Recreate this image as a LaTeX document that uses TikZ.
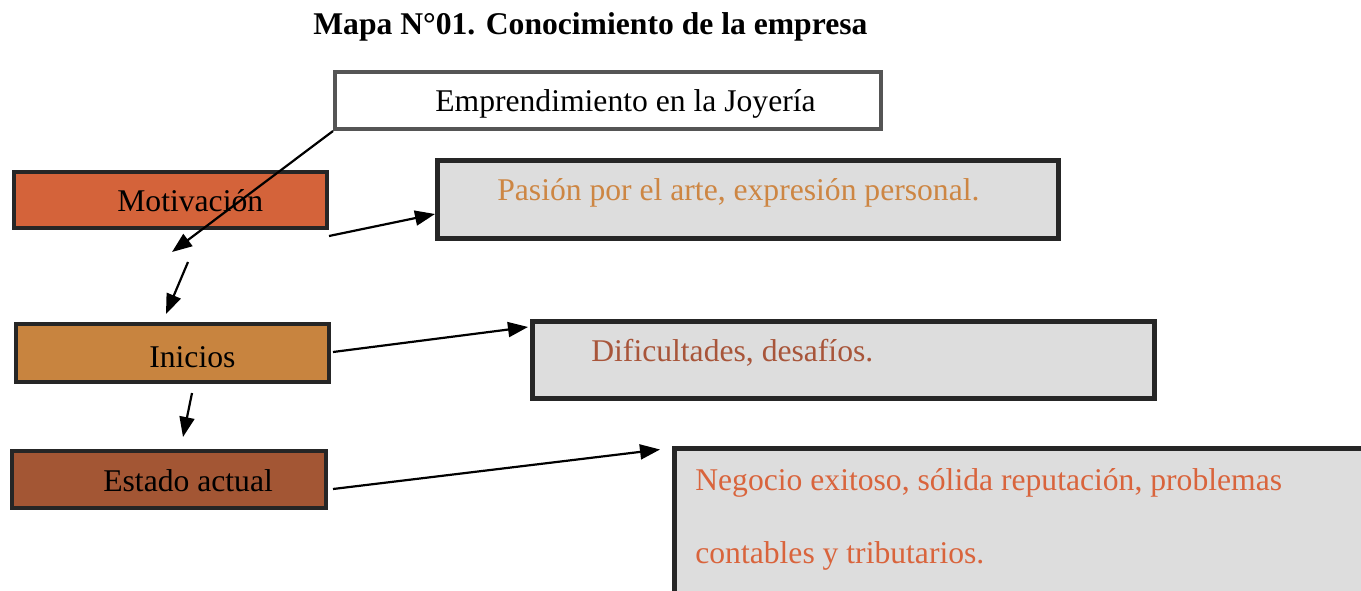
\documentclass[tikz,border=0pt]{standalone}
\usepackage{fontspec}
\setmainfont{Liberation Serif}
\usepackage{xcolor}
\usetikzlibrary{arrows.meta,positioning,calc}

\definecolor{edgedark}{HTML}{262626}
\definecolor{edgegray}{HTML}{555555}
\definecolor{panelgray}{HTML}{DDDDDD}
\definecolor{motivfill}{HTML}{D4633A}
\definecolor{iniciofill}{HTML}{C8843F}
\definecolor{estadofill}{HTML}{A35634}
\definecolor{pasiontext}{HTML}{CD8643}
\definecolor{dificultext}{HTML}{A8553A}
\definecolor{negociotext}{HTML}{D9643C}

\newcommand{\px}{0.02cm}

\begin{document}
\begin{tikzpicture}[
        x=0.02cm, y=-0.02cm,
        % Define styles for boxes and labels
        stage/.style={draw=edgedark, line width=4.5*\px, minimum width=313*\px, minimum height=57*\px, inner sep=0pt},
        detail/.style={draw=edgedark, fill=panelgray, line width=5*\px, inner sep=0pt},
        txt/.style={anchor=base west, inner sep=0pt, font=\fontsize{18}{41}\selectfont},
        arrow/.style={-{Triangle[length=20*\px, width=15*\px]}, line width=2.2*\px, black}
      ]

      \useasboundingbox (0,0) rectangle (1361,591);
      \clip (0,0) rectangle (1361,591);

      % Title
      \node[txt, font=\fontsize{18}{20}\selectfont\bfseries] (title) at (313,35) {Mapa N°01. Conocimiento de la empresa};

      % Top box
      \node[draw=edgegray, fill=white, line width=4*\px, minimum width=546*\px, minimum height=57*\px, inner sep=0pt] (top) at (608,100.5) {};
      \node[txt] (toptxt) at (435,112) {Emprendimiento en la Joyería};

      % Stage boxes on the left
      \node[stage, fill=motivfill, minimum height=56*\px] (motiv) at (170.5,200) {};
      \node[stage, fill=iniciofill, minimum height=58*\px] (inicios) at (172.5,353) {};
      \node[stage, fill=estadofill, minimum width=314*\px] (estado) at (169,479.5) {};
      \node[txt] (motivtxt) at (117,212) {Motivación};
      \node[txt] (iniciostxt) at (149,367) {Inicios};
      \node[txt] (estadotxt) at (103,491) {Estado actual};

      % Detail boxes on the right
      \node[detail, minimum width=621*\px, minimum height=78*\px] (pasion) at (748,199.5) {};
      \node[detail, minimum width=622*\px, minimum height=77*\px] (dificul) at (843.5,360) {};
      \node[detail, minimum width=725*\px, minimum height=172*\px] (negocio) at (1037,534) {};
      \node[txt, text=pasiontext] (pasiontxt) at (497,200) {Pasión por el arte, expresión personal.};
      \node[txt, text=dificultext] (dificultxt) at (591,361) {Dificultades, desafíos.};
      % base anchor sits on the last line here
      \node[txt, text=negociotext, align=left] (negociotxt) at (695,563) {Negocio exitoso, sólida reputación, problemas\\contables y tributarios.};

      % Free arrow ends
      \coordinate (downA) at (172,252);
      \coordinate (gapA) at (188,262);
      \coordinate (gapAend) at (166,314);
      \coordinate (gapB) at (192,393);
      \coordinate (gapBend) at (183,437);
      \coordinate (motivout) at (329,236);
      \coordinate (iniciosout) at (333,352);
      \coordinate (estadoout) at (333,489);

      % Connectors
      \draw[arrow] (top.south west) -- (downA);
      \draw[arrow] (gapA) -- (gapAend);
      \draw[arrow] (gapB) -- (gapBend);
      \draw[arrow] (motivout) -- ($(pasion.west)+(0,14.5)$);
      \draw[arrow] (iniciosout) -- ($(dificul.west)+(-2,-33)$);
      \draw[arrow] (estadoout) -- ($(negocio.north west)+(-12,4)$);

    \end{tikzpicture}
\end{document}
